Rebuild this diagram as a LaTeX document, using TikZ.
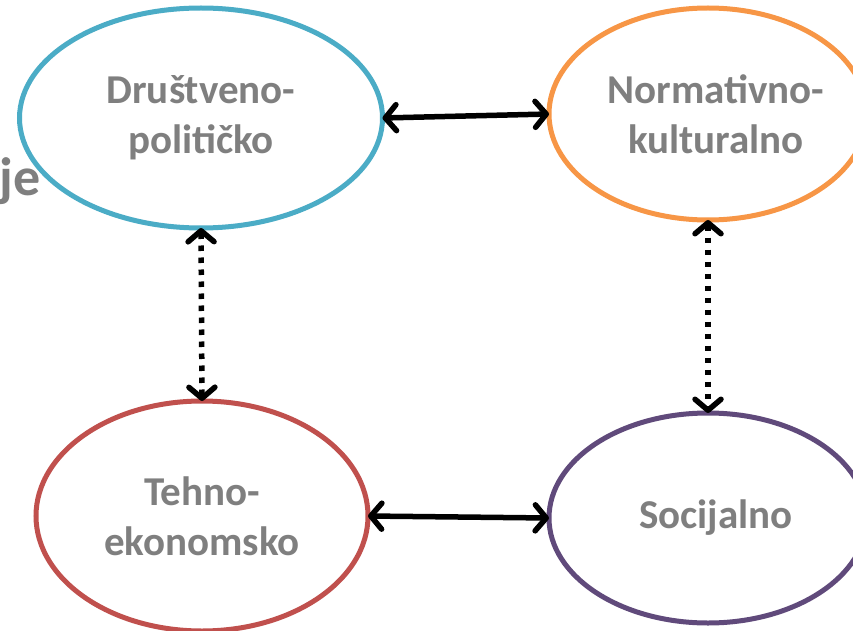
\documentclass[tikz,border=0pt]{standalone}
\usepackage{fontspec}
\setmainfont{Carlito}
\usetikzlibrary{shapes.geometric,arrows.meta}
\definecolor{cblue}{HTML}{4BACC6}
\definecolor{corange}{HTML}{F79646}
\definecolor{cred}{HTML}{C0504D}
\definecolor{cpurple}{HTML}{604A7B}
\definecolor{cgray}{HTML}{7F7F7F}
\newcommand{\shiftline}[1]{\makebox[0pt]{\hspace*{16pt}#1}}
\tikzset{
  lbl/.style={text=cgray, font=\fontsize{41}{50}\selectfont\bfseries},
  area/.style={ellipse, draw, line width=5pt, inner sep=0pt, outer sep=0pt, fill=white,
    align=center, lbl},
  link/.style={line width=5.5pt, line cap=round,
    {Straight Barb[length=11pt,width=26pt,line cap=round,line join=round]}-{Straight Barb[length=11pt,width=26pt,line cap=round,line join=round]}},
  dotlink/.style={link, line cap=butt, dash pattern=on 5.5pt off 6.5pt}
}
\begin{document}
\begin{tikzpicture}[x=1pt,y=-1pt]
\useasboundingbox (0,0) rectangle (853,631);
\node[area, draw=cblue, minimum width=363pt, minimum height=220pt] (dp) at (201,118) {Društveno-\\političko};
\node[area, draw=corange, minimum width=318pt, minimum height=212pt] (nk) at (708,114) {\shiftline{Normativno-}\\\shiftline{kulturalno}};
\node[area, draw=cred, minimum width=332pt, minimum height=230pt] (te) at (202,516) {Tehno-\\ekonomsko};
\node[area, draw=cpurple, minimum width=318pt, minimum height=210pt] (so) at (708,518) {\shiftline{Socijalno}};
\node[anchor=base east, inner sep=0pt, text=cgray, font=\fontsize{54}{60}\selectfont\bfseries] (je) at (41,196) {je};
\draw[link] (dp.east) -- (nk.west);
\draw[link] (te.east) -- (so.west);
\draw[dotlink] (dp.south) -- (te.north);
\draw[dotlink] (nk.south) -- (so.north);
\end{tikzpicture}
\end{document}
